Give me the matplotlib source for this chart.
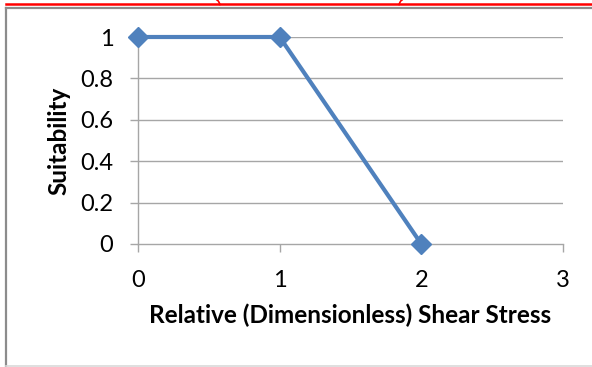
import matplotlib
matplotlib.use("Agg")
import numpy as np
import matplotlib.pyplot as plt
from matplotlib.lines import Line2D

plt.rcParams['font.family'] = ['Lato', 'DejaVu Sans']

# Suitability curve vs relative shear stress
shear_stress = [0, 1, 2]
suitability = [1, 1, 0]
x_ticks = [0, 1, 2, 3]
y_ticks = [0, 0.2, 0.4, 0.6, 0.8, 1]
y_tick_labels = ['0', '0.2', '0.4', '0.6', '0.8', '1']
x_label = 'Relative (Dimensionless) Shear Stress'
y_label = 'Suitability'

W, H = 592, 367
fig = plt.figure(figsize=(W / 100, H / 100), dpi=100)

def fx(px):
    return px / W

def fy(py):
    return 1 - py / H

# Outer frame and red rule across the top
fig.add_artist(Line2D([fx(6), fx(6)], [fy(7.5), fy(366)], color='#8c8c8c', lw=1.6))
fig.add_artist(Line2D([fx(6), fx(592)], [fy(7.5), fy(7.5)], color='#8c8c8c', lw=1.6))
fig.add_artist(Line2D([fx(6), fx(592)], [fy(366), fy(366)], color='#d9d9d9', lw=1.2))
fig.add_artist(Line2D([fx(6), fx(592)], [fy(3.8), fy(3.8)], color='#ff0000', lw=1.8))

# Tails of bracket glyphs just poking under the top edge
t = np.linspace(0, 1, 10)
fig.add_artist(Line2D(fx(217 + 3 * t ** 0.6), fy(4.5 * t), color='#ff0000', lw=1.2))
fig.add_artist(Line2D(fx(402 - 3 * t ** 0.6), fy(4.5 * t), color='#ff0000', lw=1.2))

left, right, top, bottom = 138, 563, 37, 244
ax = fig.add_axes([fx(left), fy(bottom), fx(right) - fx(left), fy(top) - fy(bottom)])

ax.set_xlim(0, 3)
ax.set_ylim(0, 1)
ax.set_xticks(x_ticks)
ax.set_yticks(y_ticks)
ax.set_yticklabels(y_tick_labels)

grid_color = '#a6a6a6'
for y in y_ticks[1:]:
    ax.axhline(y, color=grid_color, lw=1.0, zorder=1)

for s in ['top', 'right']:
    ax.spines[s].set_visible(False)
for s in ['left', 'bottom']:
    ax.spines[s].set_color(grid_color)
    ax.spines[s].set_linewidth(1.0)

ax.tick_params(axis='both', colors=grid_color, labelcolor='black', labelsize=17,
               length=5.8, width=1.0, direction='out')
ax.tick_params(axis='y', pad=12)
ax.tick_params(axis='x', pad=13)

ax.plot(shear_stress, suitability, color='#4f81bd', lw=3.0, marker='D',
        markersize=10, markerfacecolor='#4f81bd', markeredgecolor='#4f81bd',
        clip_on=False, zorder=3)

ax.set_xlabel(x_label, fontsize=17.5, fontweight='bold', labelpad=9)
ax.set_ylabel(y_label, fontsize=17.5, fontweight='bold', labelpad=7)

fig.savefig('out.png', dpi=100)
